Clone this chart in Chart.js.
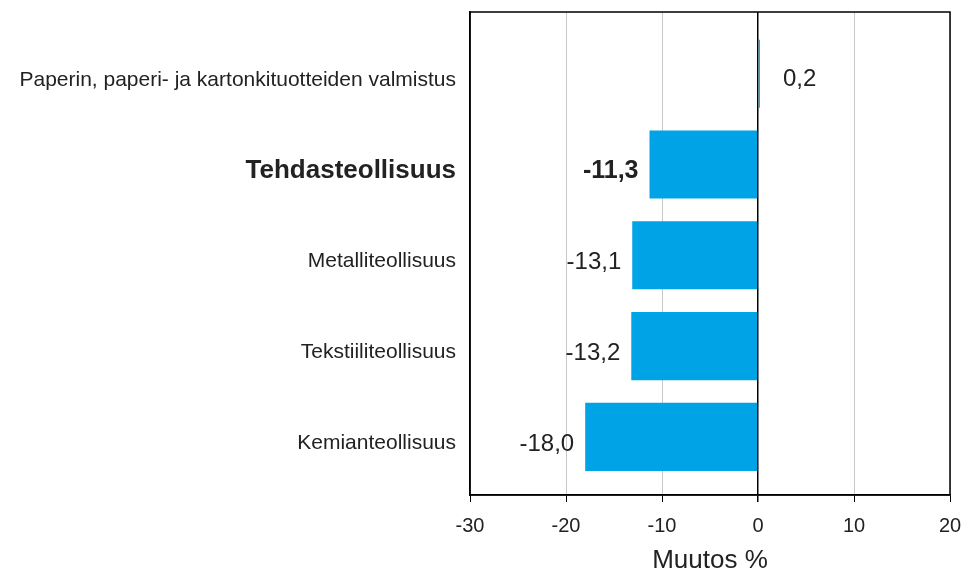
<!DOCTYPE html>
<html>
<head>
<meta charset="utf-8">
<script src="https://cdn.jsdelivr.net/npm/chart.js@4.4.1/dist/chart.umd.min.js"></script>
<style>
  html, body { margin: 0; padding: 0; background: #fff; }
  #wrap { width: 962px; height: 570px; }
</style>
</head>
<body>
<div id="wrap"><canvas id="chart" width="962" height="570"></canvas></div>
<script>
// data
const categories = [
  'Paperin, paperi- ja kartonkituotteiden valmistus',
  'Tehdasteollisuus',
  'Metalliteollisuus',
  'Tekstiiliteollisuus',
  'Kemianteollisuus'
];
const values = [0.2, -11.3, -13.1, -13.2, -18.0];
const xTicks = [-30, -20, -10, 0, 10, 20];
const boldIndex = 1;

const FONT = '"Liberation Sans", Arial, sans-serif';

const fmt = v => v.toFixed(1).replace('.', ',');

// frame around the plot area
const framePlugin = {
  id: 'frame',
  afterDraw(chart) {
    const { ctx, chartArea: a } = chart;
    ctx.save();
    ctx.strokeStyle = '#000';
    ctx.lineWidth = 1.5;
    ctx.strokeRect(a.left, a.top, a.right - a.left, a.bottom - a.top);
    ctx.restore();
  }
};

// value labels next to bar ends
const labelPlugin = {
  id: 'valueLabels',
  afterDatasetsDraw(chart) {
    const { ctx } = chart;
    const meta = chart.getDatasetMeta(0);
    ctx.save();
    ctx.fillStyle = '#222';
    ctx.textBaseline = 'middle';
    meta.data.forEach((el, i) => {
      const v = values[i];
      const bold = i === boldIndex;
      ctx.font = (bold ? 'bold 25px ' : '24px ') + FONT;
      if (v < 0) {
        ctx.textAlign = 'right';
        ctx.fillText(fmt(v), el.x - 11, el.y + 7);
      } else {
        ctx.textAlign = 'left';
        ctx.fillText(fmt(v), el.x + 23, el.y + 6);
      }
    });
    ctx.restore();
  }
};

new Chart(document.getElementById('chart'), {
  type: 'bar',
  data: {
    datasets: [{
      data: values.map((v, i) => ({ x: v, y: i })),
      backgroundColor: '#00A3E6',
      borderWidth: 0,
      barPercentage: 1,
      categoryPercentage: 0.75
    }]
  },
  options: {
    indexAxis: 'y',
    responsive: false,
    animation: false,
    layout: { padding: { top: 12, right: 12, left: 0, bottom: 0 } },
    plugins: { legend: { display: false }, tooltip: { enabled: false } },
    scales: {
      x: {
        type: 'linear',
        min: -30,
        max: 20,
        afterBuildTicks: s => { s.ticks = xTicks.map(v => ({ value: v })); },
        afterFit: s => { s.height = 75; s.paddingLeft = 0; s.paddingRight = 0; },
        grid: {
          color: c => (c.tick && c.tick.value === 0) ? '#000' : '#c8c8c8',
          lineWidth: c => (c.tick && c.tick.value === 0) ? 1.5 : 1,
          tickColor: '#000',
          tickLength: 7,
          drawTicks: true
        },
        border: { display: true, color: '#000', width: 1.5 },
        ticks: {
          color: '#222',
          font: { family: FONT, size: 20 },
          padding: 12,
          maxRotation: 0
        },
        title: {
          display: true,
          text: 'Muutos %',
          color: '#222',
          font: { family: FONT, size: 26, lineHeight: 0.7 },
          padding: { top: 0, bottom: 0 }
        }
      },
      y: {
        type: 'linear',
        reverse: true,
        offset: false,
        min: -0.68,
        max: 4.64,
        afterBuildTicks: s => { s.ticks = categories.map((c, i) => ({ value: i })); },
        afterFit: s => { s.width = 470; s.paddingTop = 0; s.paddingBottom = 0; },
        grid: { display: false },
        border: { display: true, color: '#000', width: 1.5 },
        ticks: {
          color: '#222',
          padding: 6,
          labelOffset: 6,
          autoSkip: false,
          callback: v => categories[v],
          font: c => (c.tick && c.tick.value === boldIndex)
            ? { family: FONT, size: 26, weight: 'bold' }
            : { family: FONT, size: 21 }
        }
      }
    }
  },
  plugins: [framePlugin, labelPlugin]
});
</script>
</body>
</html>
